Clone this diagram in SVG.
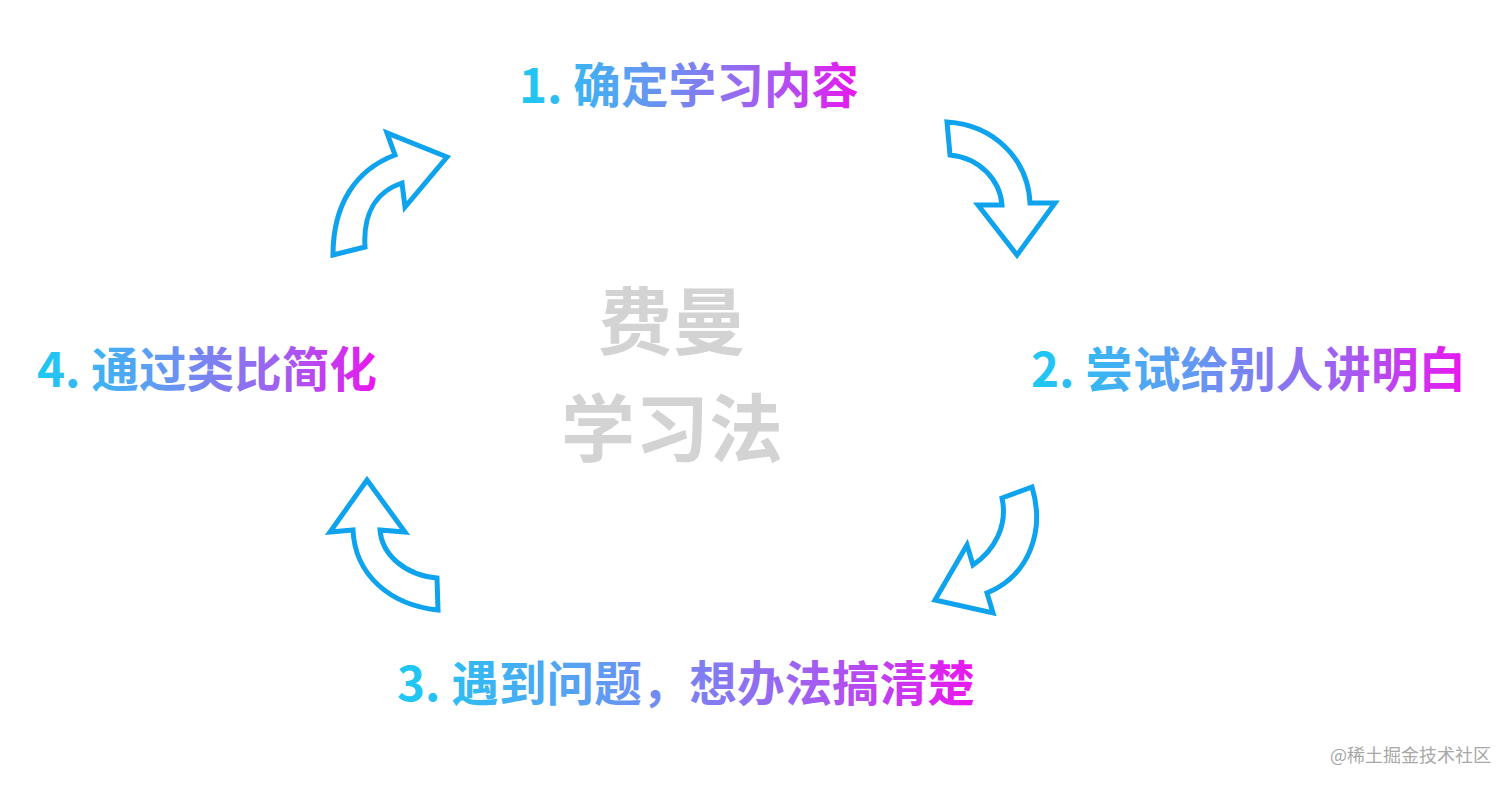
<svg xmlns="http://www.w3.org/2000/svg" width="1512" height="788" viewBox="0 0 1512 788">
<defs>
<linearGradient id="g" x1="0" y1="0" x2="1" y2="0">
<stop offset="0" stop-color="#1cc9f3"/>
<stop offset="0.35" stop-color="#5f9cf2"/>
<stop offset="0.72" stop-color="#a25ef0"/>
<stop offset="1" stop-color="#ea16ef"/>
</linearGradient>
<style>
.lbl{font-family:"Noto Sans CJK SC","Noto Sans",sans-serif;font-weight:bold;font-size:47.6px;fill:url(#g)}
.ctr{font-family:"Noto Sans CJK SC","Noto Sans",sans-serif;font-weight:bold;font-size:74px;fill:#d3d3d3;text-anchor:middle}
.arr{fill:#fff;stroke:#0fa3ee;stroke-width:5;stroke-linejoin:miter}
.wm{font-family:"Noto Sans CJK SC","Noto Sans",sans-serif;font-size:18px;fill:#a8a8a8}
</style>
</defs>
<rect width="1512" height="788" fill="#fff"/>
<g id="connectors">
<path class="arr" d="M333,255 C333,205 355,170 395,155 L387,133 L447,157 L405,207 L402,183 C375,192 363,215 365,247 Z"/>
<path class="arr" d="M947,122 C995,125 1028,160 1030,203 L1055,203 L1017,255 L978,205 L1002,205 C1000,180 980,158 950,155 Z"/>
<path class="arr" d="M1032,487 C1045,530 1030,575 987,593 L993,613 L935,600 L967,545 L973,565 C995,550 1008,525 1002,498 Z"/>
<path class="arr" d="M367,480 L405,532 L380,530 C382,555 405,575 437,578 L438,610 C390,605 355,575 353,530 L330,532 Z"/>
</g>
<g id="center">
<text class="ctr" x="672" y="349">费曼</text>
<text class="ctr" x="672" y="456">学习法</text>
</g>
<g id="step1"><text class="lbl" x="519" y="103">1. 确定学习内容</text></g>
<g id="step2"><text class="lbl" x="1031" y="387">2. 尝试给别人讲明白</text></g>
<g id="step3"><text class="lbl" x="397" y="701">3. 遇到问题，想办法搞清楚</text></g>
<g id="step4"><text class="lbl" x="37" y="387">4. 通过类比简化</text></g>
<text class="wm" x="1330" y="762">@稀土掘金技术社区</text>
</svg>
